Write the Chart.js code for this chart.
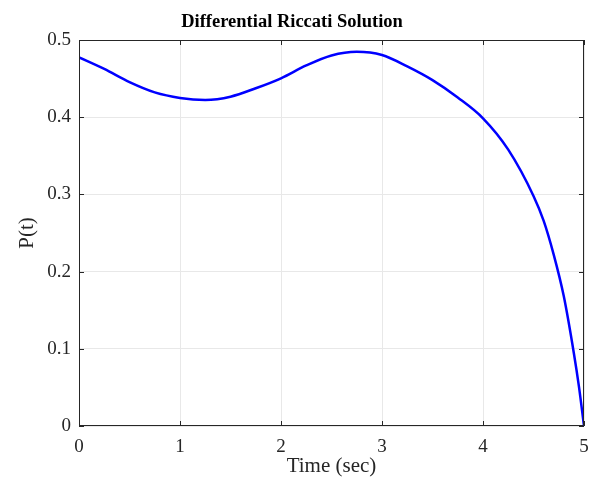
<!DOCTYPE html>
<html>
<head>
<meta charset="utf-8">
<script src="https://cdn.jsdelivr.net/npm/chart.js@4/dist/chart.umd.min.js"></script>
<style>
  html, body { margin: 0; padding: 0; background: #fff; }
  #wrap { width: 590px; height: 488px; }
</style>
</head>
<body>
<div id="wrap"><canvas id="riccatiChart" width="590" height="488"></canvas></div>
<script>
// time samples and P(t)
const timeSec = [0, 0.25, 0.5, 0.75, 1.0, 1.25, 1.5, 1.75, 2.0, 2.25, 2.5, 2.75, 3.0, 3.25, 3.5, 3.75, 4.0, 4.25, 4.5, 4.6, 4.7, 4.8, 4.9, 4.95, 5.0];
const pValues = [0.4776, 0.4625, 0.4455, 0.4322, 0.4250, 0.4224, 0.4266, 0.4375, 0.4504, 0.4670, 0.4800, 0.4848, 0.4806, 0.4658, 0.4480, 0.4255, 0.3986, 0.3580, 0.2980, 0.2660, 0.2220, 0.1680, 0.0940, 0.0510, 0];
const xTicks = [0, 1, 2, 3, 4, 5];
const yTicks = [0, 0.1, 0.2, 0.3, 0.4, 0.5];

const serif = "'Liberation Serif', 'Times New Roman', serif";

// MATLAB style box with inward tick marks
const boxTicks = {
  id: "boxTicks",
  afterDraw(chart) {
    const { ctx, chartArea: a, scales } = chart;
    const len = 5;
    ctx.save();
    ctx.strokeStyle = "#262626";
    ctx.lineWidth = 1;
    ctx.beginPath();
    ctx.rect(a.left + 0.5, a.top + 0.5, a.right - a.left - 1, a.bottom - a.top - 1);
    xTicks.forEach((v) => {
      const px = Math.round(scales.x.getPixelForValue(v)) + 0.5;
      ctx.moveTo(px, a.bottom);
      ctx.lineTo(px, a.bottom - len);
      ctx.moveTo(px, a.top);
      ctx.lineTo(px, a.top + len);
    });
    yTicks.forEach((v) => {
      const py = Math.round(scales.y.getPixelForValue(v)) + 0.5;
      ctx.moveTo(a.left, py);
      ctx.lineTo(a.left + len, py);
      ctx.moveTo(a.right, py);
      ctx.lineTo(a.right - len, py);
    });
    ctx.stroke();
    ctx.restore();
  },
};

const ctx = document.getElementById("riccatiChart").getContext("2d");
new Chart(ctx, {
  type: "line",
  data: {
    datasets: [
      {
        data: timeSec.map((t, i) => ({ x: t, y: pValues[i] })),
        borderColor: "#0000ff",
        borderWidth: 2.5,
        pointRadius: 0,
        cubicInterpolationMode: "monotone",
        fill: false,
      },
    ],
  },
  options: {
    responsive: false,
    animation: false,
    layout: { padding: { left: 0, right: 6, top: 0, bottom: 0 } },
    plugins: {
      legend: { display: false },
      tooltip: { enabled: false },
      title: {
        display: true,
        text: "Differential Riccati Solution",
        color: "#000",
        font: { family: serif, size: 18.5, weight: "bold", lineHeight: 1.2 },
        padding: { top: 11, bottom: 6.8 },
      },
    },
    scales: {
      x: {
        type: "linear",
        min: 0,
        max: 5,
        afterFit: (s) => {
          s.height = 62;
          s.paddingLeft = 0;
          s.paddingRight = 0;
        },
        afterBuildTicks: (s) => { s.ticks = xTicks.map((v) => ({ value: v })); },
        grid: { color: "#e8e8e8", drawTicks: false },
        border: { display: false },
        ticks: { color: "#262626", font: { family: serif, size: 19 }, padding: 10, maxRotation: 0 },
        title: {
          display: true,
          text: "Time (sec)",
          color: "#262626",
          font: { family: serif, size: 21, lineHeight: 1.2 },
          padding: { bottom: 9 },
        },
      },
      y: {
        min: 0,
        max: 0.5,
        afterFit: (s) => {
          s.width = 79;
          s.paddingTop = 0;
          s.paddingBottom = 0;
        },
        afterBuildTicks: (s) => { s.ticks = yTicks.map((v) => ({ value: v })); },
        grid: { color: "#e8e8e8", drawTicks: false },
        border: { display: false },
        ticks: { color: "#262626", font: { family: serif, size: 19 }, padding: 8 },
        title: {
          display: true,
          text: "P(t)",
          color: "#262626",
          font: { family: serif, size: 21, lineHeight: 1.2 },
          padding: { top: 15 },
        },
      },
    },
  },
  plugins: [boxTicks],
});
</script>
</body>
</html>
